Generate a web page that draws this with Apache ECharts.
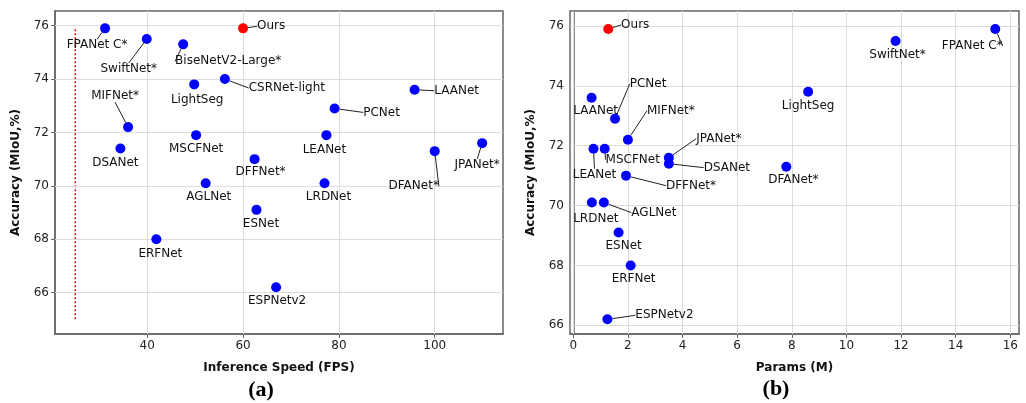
<!DOCTYPE html>
<html>
<head>
<meta charset="utf-8">
<script src="https://cdn.jsdelivr.net/npm/echarts@6/dist/echarts.min.js"></script>
<style>
  html, body { margin: 0; padding: 0; background: #fff; }
  #main { width: 1026px; height: 403px; }
</style>
</head>
<body>
<div id="main"></div>
<script>
// 模型名称
var names = ['Ours', 'FPANet C*', 'SwiftNet*', 'BiseNetV2-Large*', 'LightSeg', 'CSRNet-light',
  'MIFNet*', 'DSANet', 'MSCFNet', 'DFFNet*', 'AGLNet', 'ESNet', 'ERFNet', 'ESPNetv2',
  'LRDNet', 'LEANet', 'PCNet', 'LAANet', 'DFANet*', 'JPANet*'];
// 推理速度 (FPS)
var fps = [60, 31.2, 39.9, 47.5, 49.8, 56.2, 36, 34.4, 50.2, 62.4, 52.2, 62.8, 41.9, 66.9,
  77, 77.4, 79.1, 95.8, 100, 109.9];
// 精度 mIoU (%)
var miou = [75.9, 75.9, 75.5, 75.3, 73.8, 74.0, 72.2, 71.4, 71.9, 71.0, 70.1, 69.1, 68.0, 66.2,
  70.1, 71.9, 72.9, 73.6, 71.3, 71.6];
// 参数量 (M)，右图没有的为 null
var params = [1.28, 15.45, 11.8, null, 8.6, null, 2.0, 3.5, 1.15, 1.93, 1.12, 1.66, 2.1, 1.25,
  0.68, 0.74, 1.53, 0.67, 7.8, 3.5];

// 红色虚线
var refLine = [[25, 65], [25, 75.9]];

// 刻度
var speedTicks = [40, 60, 80, 100];
var paramTicks = [0, 2, 4, 6, 8, 10, 12, 14, 16];
var accTicksA = [66, 68, 70, 72, 74, 76];
var accTicksB = [66, 68, 70, 72, 74, 76];

// 标签偏移 (相对点的像素) 和引线
var offsetA = [[28, -2], [-8, 17], [-18, 30], [45, 17], [3, 15], [62, 9], [-13, -31], [-5, 14],
  [0, 14], [6, 13], [3, 14], [4.5, 14], [4, 15], [1, 14], [4, 14], [-2, 15], [47, 4], [42, 1],
  [-21, 35], [-5, 22]];
var leaderA = [1, 1, 1, 1, 0, 1, 1, 0, 0, 0, 0, 0, 0, 0, 0, 0, 1, 1, 1, 1];
var offsetB = [[27, -4], [-23, 17], [2, 14], null, [0, 14], null, [43, -29], [58, 4], [28, 11],
  [65, 10], [50, 10], [5, 13], [3, 13], [57, -4], [4, 16], [1, 26], [33, -35], [4, 13],
  [7, 13], [50, -19]];
var leaderB = [1, 1, 0, 0, 0, 0, 1, 1, 1, 1, 1, 0, 0, 1, 0, 1, 1, 0, 0, 1];

var font = 'DejaVu Sans';

function buildPoints(xs, offs, leads) {
  var pts = [];
  for (var i = 0; i < names.length; i++) {
    if (xs[i] == null) continue;
    pts.push({
      name: names[i],
      value: [xs[i], miou[i]],
      off: offs[i],
      itemStyle: { color: names[i] == 'Ours' ? '#ff0000' : '#0000ff', opacity: 1 },
      labelLine: { show: leads[i] == 1 }
    });
  }
  return pts;
}
var ptsA = buildPoints(fps, offsetA, leaderA);
var ptsB = buildPoints(params, offsetB, leaderB);

function scatter(idx, pts) {
  return {
    type: 'scatter',
    xAxisIndex: idx, yAxisIndex: idx,
    symbolSize: 10,
    z: 5,
    data: pts,
    itemStyle: { opacity: 1 },
    label: {
      show: true, position: 'inside', formatter: '{b}',
      color: '#111', fontFamily: font, fontSize: 12
    },
    labelLine: { show: false, lineStyle: { color: '#222', width: 1 } },
    labelLayout: function (p) {
      var o = pts[p.dataIndex].off;
      return { dx: o[0], dy: o[1] };
    },
    emphasis: { disabled: true }
  };
}

function gridLines(idx, xs, ys) {
  var d = [];
  xs.forEach(function (v) { d.push({ xAxis: v }); });
  ys.forEach(function (v) { d.push({ yAxis: v }); });
  return {
    type: 'line', xAxisIndex: idx, yAxisIndex: idx, data: [], z: 1,
    markLine: {
      silent: true, symbol: 'none', label: { show: false },
      lineStyle: { color: '#dcdcdc', width: 1, type: 'solid' },
      data: d
    }
  };
}

function xAxis(idx, min, max, ticks, title) {
  return {
    type: 'value', gridIndex: idx, min: min, max: max,
    name: title, nameLocation: 'middle', nameGap: 28,
    nameTextStyle: { fontFamily: font, fontWeight: 'bold', fontSize: 12, color: '#111' },
    axisLine: { lineStyle: { color: '#666', width: 1.5 } },
    axisTick: { show: true, length: 4, customValues: ticks, lineStyle: { color: '#666' } },
    axisLabel: { customValues: ticks, fontFamily: font, fontSize: 12, color: '#222', margin: 6 },
    splitLine: { show: false }
  };
}
function yAxis(idx, min, max, ticks) {
  return {
    type: 'value', gridIndex: idx, min: min, max: max,
    name: 'Accuracy (MIoU,%)', nameLocation: 'middle', nameGap: 33,
    nameTextStyle: { fontFamily: font, fontWeight: 'bold', fontSize: 12, color: '#111' },
    axisLine: { show: true, lineStyle: { color: '#666', width: 1.5 } },
    axisTick: { show: true, length: 4, customValues: ticks, lineStyle: { color: '#666' } },
    axisLabel: { customValues: ticks, fontFamily: font, fontSize: 12, color: '#222', margin: 6 },
    splitLine: { show: false }
  };
}

var myChart = echarts.init(document.getElementById('main'));
var option = {
  backgroundColor: '#fff',
  animation: false,
  grid: [
    { left: 55, top: 11, width: 448, height: 323, show: true, borderColor: '#666', borderWidth: 1.5 },
    { left: 570, top: 11, width: 449, height: 323, show: true, borderColor: '#666', borderWidth: 1.5 }
  ],
  xAxis: [
    xAxis(0, 20.75, 114.25, speedTicks, 'Inference Speed (FPS)'),
    xAxis(1, -0.12, 16.32, paramTicks, 'Params (M)')
  ],
  yAxis: [
    yAxis(0, 64.45, 76.55, accTicksA),
    yAxis(1, 65.71, 76.5, accTicksB)
  ],
  series: [
    gridLines(0, speedTicks, accTicksA),
    gridLines(1, paramTicks, accTicksB),
    {
      type: 'line', xAxisIndex: 0, yAxisIndex: 0, data: refLine, symbol: 'none', z: 2,
      lineStyle: { color: '#ff0000', width: 1.5, type: [2, 2] }
    },
    scatter(0, ptsA),
    scatter(1, ptsB)
  ],
  graphic: [
    { type: 'text', x: 261, y: 390, style: { text: '(a)', fontFamily: 'Liberation Serif', fontWeight: 'bold', fontSize: 22, fill: '#000', textAlign: 'center', textVerticalAlign: 'middle' } },
    { type: 'text', x: 776, y: 389, style: { text: '(b)', fontFamily: 'Liberation Serif', fontWeight: 'bold', fontSize: 22, fill: '#000', textAlign: 'center', textVerticalAlign: 'middle' } }
  ]
};
myChart.setOption(option);
</script>
</body>
</html>
